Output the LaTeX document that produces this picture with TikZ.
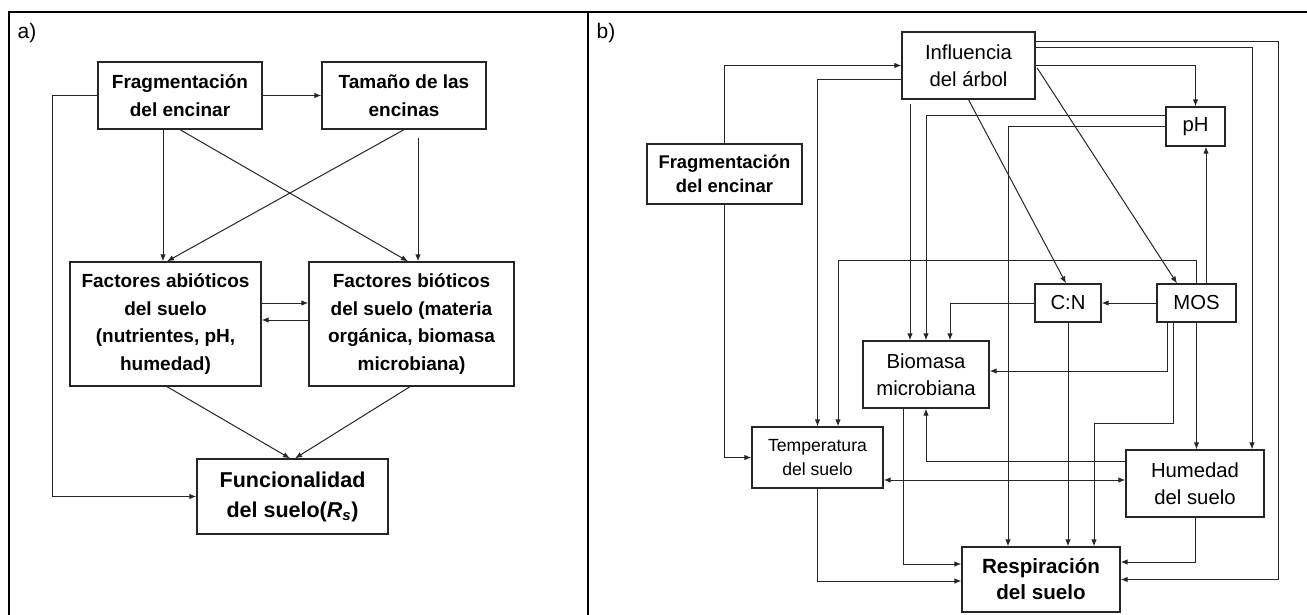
\documentclass[tikz,border=0pt]{standalone}
\usepackage{fontspec}
\setmainfont{Liberation Sans}
\usetikzlibrary{arrows.meta,calc}
\begin{document}
\begin{tikzpicture}[x=1pt,y=-1pt,
  box/.style={draw=black!85, line width=1.3pt, inner sep=0pt, align=center},
  fa/.style={font=\fontsize{19}{27.5}\selectfont\bfseries},
  fb/.style={font=\fontsize{20.3}{27}\selectfont},
  conn/.style={draw=black!85, line width=1pt},
  arr/.style={conn, -{Latex[length=7pt,width=5.5pt]}},
  darr/.style={conn, {Latex[length=7pt,width=5.5pt]}-{Latex[length=7pt,width=5.5pt]}},
  frame/.style={draw=black, line width=2pt}]
\useasboundingbox (0,0) rectangle (1307,615);
% frame
\draw[frame] (9,616) -- (9,12) -- (1308,12);
\draw[frame] (588,12) -- (588,616);
\node[font=\fontsize{21}{24}\selectfont] (la) at (27,33) {a)};
\node[font=\fontsize{21}{24}\selectfont] (lb) at (606,33) {b)};

% ---------- panel a ----------
\node[box,fa,minimum width=164,minimum height=67] (fa) at (180,95.5) {Fragmentación\\del encinar};
\node[box,fa,minimum width=164,minimum height=67] (ta) at (404,95.5) {Tamaño de las\\encinas};
\node[box,fa,minimum width=191,minimum height=124] (aa) at (165.5,324) {Factores abióticos\\del suelo\\(nutrientes, pH,\\humedad)};
\node[box,fa,minimum width=205,minimum height=124] (ba) at (411.5,324) {Factores bióticos\\del suelo (materia\\orgánica, biomasa\\microbiana)};
\node[box,font=\fontsize{21.5}{30}\selectfont\bfseries,minimum width=191,minimum height=75] (fu) at (292.5,496.5) {Funcionalidad\\del suelo({\itshape R\textsubscript{s}})};

\draw[arr] (fa.east) -- (ta.west);
\draw[arr] (fa.west) -- ++(-45,0) |- (fu.west);
\coordinate (a1) at ($(fa.south)+(-17,0)$);
\draw[arr] (a1) -- (a1 |- aa.north);
\draw[arr] (fa.south) -- ($(ba.north)+(-3.5,0)$);
\draw[arr] (ta.south) -- ($(aa.north)+(1.5,0)$);
\coordinate (a2) at ($(ta.south)+(14,8)$);
\draw[arr] (a2) -- (a2 |- ba.north);
\draw[arr] ($(aa.east)+(0,-21)$) -- ($(ba.west)+(0,-21)$);
\draw[arr] ($(ba.west)+(0,-4)$) -- ($(aa.east)+(0,-4)$);
\draw[arr] ($(aa.south)+(1.5,0)$) -- ($(fu.north)+(-2.5,0)$);
\draw[arr] ($(ba.south)+(-1.5,0)$) -- ($(fu.north)+(2.5,0)$);

% ---------- panel b ----------
\node[box,fb,minimum width=133,minimum height=67] (inf) at (968.5,65.5) {Influencia\\del árbol};
\node[box,font=\fontsize{18.4}{24}\selectfont\bfseries,minimum width=155,minimum height=60] (frb) at (724.5,174) {Fragmentación\\del encinar};
\node[box,fb,minimum width=59,minimum height=39] (ph) at (1195.5,126.5) {pH};
\node[box,fb,minimum width=66,minimum height=38] (cn) at (1068,303) {C:N};
\node[box,fb,minimum width=79,minimum height=38] (mos) at (1196.5,303) {MOS};
\node[box,fb,minimum width=126,minimum height=67] (bio) at (926,374.5) {Biomasa\\microbiana};
\node[box,font=\fontsize{17.6}{24}\selectfont,minimum width=131,minimum height=61] (tem) at (817.5,457.5) {Temperatura\\del suelo};
\node[box,fb,minimum width=138,minimum height=67] (hum) at (1195,483.5) {Humedad\\del suelo};
\node[box,font=\fontsize{20.6}{26}\selectfont\bfseries,minimum width=158,minimum height=65] (res) at (1041,579.5) {Respiración\\del suelo};

\draw[arr] (frb.north) |- (inf.west);
\draw[arr] (frb.south) |- (tem.west);
\draw[arr] ($(inf.west)+(0,14.5)$) -| (tem.north);
\draw[arr] (mos.north) -- ++(0,-23) -| ($(tem.north)+(20.5,0)$);
\coordinate (m1) at ($(mos.north)+(9.5,0)$);
\draw[arr] (m1) -- (m1 |- ph.south);
\draw[arr] (inf.east) -| (ph.north);
\draw[arr] ($(inf.east)+(0,-23.5)$) -- ++(243,0) |- (res.east);
\draw[arr] ($(inf.east)+(0,-17.5)$) -| ($(hum.north)+(57,0)$);
\draw[arr] ($(inf.east)+(1.5,2.5)$) -- ($(mos.north)+(-19.5,0)$);
\draw[arr] (inf.south) -- ($(cn.north)+(-2,0)$);
\coordinate (i1) at ($(inf.south)+(-58.5,4)$);
\draw[arr] (i1) -- (i1 |- bio.north);
\draw[arr] ($(ph.west)+(0,-10.5)$) -| (bio.north);
\draw[arr] ($(ph.west)+(0,0.5)$) -| ($(res.north)+(-33,0)$);
\draw[arr] (cn.west) -| ($(bio.north)+(24,0)$);
\draw[arr] (mos.west) -- (cn.east);
\draw[arr] (cn.south) -- (cn.south |- res.north);
\draw[arr] ($(mos.south)+(-29.5,0)$) |- ($(bio.east)+(0,-3.5)$);
\draw[arr] ($(mos.south)+(-23.5,0)$) -- ++(0,101) -| ($(res.north)+(53,0)$);
\draw[arr] (mos.south) -- (mos.south |- hum.north);
\draw[arr] ($(hum.west)+(0,-22.5)$) -| (bio.south);
\draw[darr] ($(tem.east)+(0,22.5)$) -- ($(hum.west)+(0,-3.5)$);
\draw[arr] ($(bio.south)+(-23,0)$) |- ($(res.west)+(0,-15.5)$);
\draw[arr] (tem.south) |- ($(res.west)+(0,1.5)$);
\draw[arr] (hum.south) |- ($(res.east)+(0,-17.5)$);
\end{tikzpicture}
\end{document}
